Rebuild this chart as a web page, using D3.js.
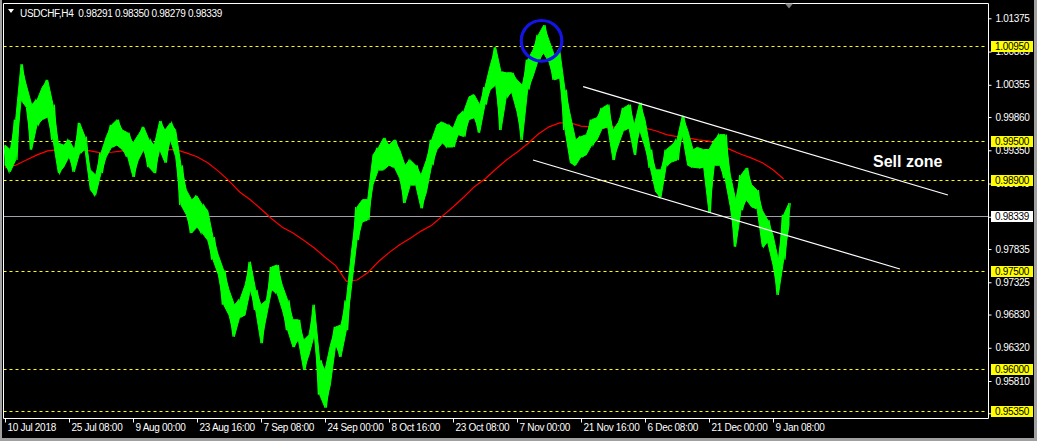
<!DOCTYPE html>
<html><head><meta charset="utf-8">
<script src="https://cdn.jsdelivr.net/npm/d3@7"></script>
<style>
body{margin:0;background:#000;overflow:hidden}
text{font-family:"Liberation Sans",Arial,sans-serif;}
</style>
</head><body>
<svg id="c" width="1037" height="441"></svg>
<script>
// ---------- data ----------
const symbolTitle = "USDCHF,H4";
const ohlcValues = [0.98291, 0.98350, 0.98279, 0.98339];
const xTickLabels = ["10 Jul 2018","25 Jul 08:00","9 Aug 00:00","23 Aug 16:00","7 Sep 08:00","24 Sep 00:00","8 Oct 16:00","23 Oct 08:00","7 Nov 00:00","21 Nov 16:00","6 Dec 08:00","21 Dec 00:00","9 Jan 08:00"];
const yTickValues = [1.01375,1.00865,1.00355,0.99860,0.99350,0.98840,0.98330,0.97835,0.97325,0.96830,0.96320,0.95810,0.95315];
const levelValues = [1.00950,0.99500,0.98900,0.97500,0.96000,0.95350];
const lastPrice = 0.98339;
const priceHigh = [0.9943,0.9936,0.9982,1.0067,1.0035,1.0005,1.0012,1.0032,1.0043,1.0005,
0.9946,0.9943,0.9951,0.9936,0.9977,0.9956,0.9905,0.9897,0.9931,0.9956,
0.9974,0.9982,0.9966,0.9962,0.9946,0.9959,0.9971,0.9951,0.9943,0.9980,
0.9966,0.9977,0.9966,0.9912,0.9874,0.9859,0.9865,0.9851,0.9843,0.9802,
0.9774,0.9751,0.9721,0.9698,0.9705,0.9728,0.9764,0.9721,0.9698,0.9705,
0.9756,0.9759,0.9728,0.9705,0.9675,0.9675,0.9644,0.9652,0.9698,0.9613,
0.9598,0.9636,0.9664,0.9667,0.9705,0.9782,0.9848,0.9859,0.9859,0.9928,
0.9939,0.9954,0.9943,0.9951,0.9936,0.9912,0.9920,0.9912,0.9897,0.9920,
0.9951,0.9974,0.9978,0.9974,0.9969,0.9989,0.9994,1.0017,1.0020,1.0005,
1.0032,1.0066,1.0093,1.0055,1.0054,1.0054,1.0043,1.0035,1.0074,1.0089,
1.0112,1.0127,1.0104,1.0081,1.0089,1.0028,0.9989,0.9951,0.9956,0.9959,
0.9982,0.9985,1.0000,1.0005,0.9966,0.9978,1.0000,1.0005,0.9974,1.0008,
0.9982,0.9936,0.9905,0.9905,0.9936,0.9943,0.9951,0.9988,0.9966,0.9936,
0.9939,0.9936,0.9936,0.9951,0.9959,0.9959,0.9897,0.9859,0.9897,0.9908,
0.9882,0.9874,0.9843,0.9828,0.9805,0.9767,0.9836,0.9854];
const priceLow = [0.9912,0.9902,0.9920,1.0012,1.0001,0.9936,0.9974,0.9982,0.9986,0.9951,
0.9900,0.9909,0.9925,0.9902,0.9931,0.9936,0.9874,0.9866,0.9900,0.9925,
0.9940,0.9943,0.9936,0.9925,0.9894,0.9920,0.9936,0.9909,0.9900,0.9936,
0.9916,0.9951,0.9925,0.9851,0.9836,0.9808,0.9817,0.9808,0.9797,0.9767,
0.9744,0.9698,0.9682,0.9649,0.9679,0.9682,0.9721,0.9690,0.9639,0.9679,
0.9721,0.9716,0.9690,0.9659,0.9633,0.9644,0.9598,0.9621,0.9652,0.9560,
0.9540,0.9575,0.9636,0.9618,0.9659,0.9728,0.9797,0.9825,0.9828,0.9882,
0.9905,0.9905,0.9912,0.9909,0.9892,0.9854,0.9882,0.9882,0.9846,0.9870,
0.9912,0.9936,0.9946,0.9940,0.9940,0.9959,0.9956,0.9982,0.9985,0.9962,
1.0005,1.0028,1.0035,0.9966,1.0017,1.0024,0.9994,0.9951,1.0028,1.0048,
1.0074,1.0084,1.0070,1.0043,1.0046,0.9966,0.9916,0.9912,0.9925,0.9928,
0.9943,0.9951,0.9969,0.9971,0.9920,0.9943,0.9966,0.9969,0.9928,0.9966,
0.9940,0.9908,0.9871,0.9863,0.9912,0.9917,0.9920,0.9959,0.9912,0.9909,
0.9908,0.9909,0.9839,0.9912,0.9912,0.9892,0.9848,0.9787,0.9843,0.9859,
0.9848,0.9846,0.9787,0.9794,0.9759,0.9713,0.9767,0.9820];
// moving average, one value every 2 samples
const maValues = [0.9908,0.9912,0.9920,0.9928,0.9934,0.9936,0.9936,0.9936,0.9934,0.9931,
0.9932,0.9934,0.9934,0.9934,0.9936,0.9936,0.9936,0.9931,0.9925,0.9916,
0.9903,0.9888,0.9871,0.9859,0.9845,0.9830,0.9817,0.9808,0.9797,0.9785,
0.9771,0.9758,0.9734,0.9736,0.9747,0.9764,0.9778,0.9790,0.9800,0.9811,
0.9820,0.9834,0.9848,0.9863,0.9879,0.9891,0.9906,0.9920,0.9932,0.9945,
0.9960,0.9971,0.9977,0.9977,0.9972,0.9971,0.9969,0.9971,0.9969,0.9969,
0.9969,0.9965,0.9959,0.9956,0.9954,0.9951,0.9949,0.9943,0.9936,0.9929,
0.9923,0.9916,0.9905,0.9891];
// trend channel: [sample index, price]
const channelUpper = [[108.4, 1.00326],[176.8, 0.98664]];
const channelLower = [[99.0, 0.99201],[167.8, 0.97529]];
const circleMark = [100.6, 1.0103];
const noteText = "Sell zone";
const notePoint = [162.75, 0.9909];

// ---------- drawing ----------
const W = 1037, H = 441;
const svg = d3.select("#c");
const x = d3.scaleLinear().domain([0, 12]).range([5, 69]);   // 12 samples per time label
const y = d3.scaleLinear().domain([0.9535, 1.0095]).range([411, 46]);
const plotL = 3.5, plotR = 988.5, plotT = 3.5, plotB = 418.5;
const font = "10px";

svg.append("rect").attr("width", W).attr("height", H).attr("fill", "#000");
// window edge
svg.append("rect").attr("x", 0).attr("y", 0).attr("width", 2).attr("height", H).attr("fill", "#a0a0a0");
svg.append("rect").attr("x", 1034).attr("y", 0).attr("width", 3).attr("height", H).attr("fill", "#a0a0a0");
svg.append("rect").attr("x", 0).attr("y", 438).attr("width", W).attr("height", 3).attr("fill", "#a0a0a0");

// levels
svg.append("g").selectAll("line").data(levelValues).join("line")
  .attr("x1", plotL).attr("x2", plotR - 2)
  .attr("y1", d => Math.round(y(d)) + 0.5).attr("y2", d => Math.round(y(d)) + 0.5)
  .attr("stroke", "#ffff00").attr("stroke-width", 1).attr("stroke-dasharray", "3,3");

// last price line
svg.append("line").attr("x1", plotL).attr("x2", plotR)
  .attr("y1", Math.round(y(lastPrice)) + 0.5).attr("y2", Math.round(y(lastPrice)) + 0.5)
  .attr("stroke", "#a0a0a8").attr("stroke-width", 1);

// moving average
svg.append("path").datum(maValues)
  .attr("d", d3.line().x((d, k) => x(2 * k)).y(d => y(d)))
  .attr("fill", "none").attr("stroke", "#ff0000").attr("stroke-width", 1.2);

// price band between each sample's high and low
const area = d3.area().x((d, i) => x(i)).y0((d, i) => y(priceLow[i])).y1((d, i) => y(priceHigh[i]));
svg.append("path").datum(priceHigh).attr("d", area)
  .attr("fill", "#00ff00").attr("stroke", "#00ff00").attr("stroke-width", 1).attr("stroke-linejoin", "miter");
// high-low zigzag for texture
const zig = [];
priceHigh.forEach((h, i) => {
  const l = priceLow[i];
  if (i % 2 === 0) { zig.push([i - 0.25, h]); zig.push([i + 0.25, l]); }
  else { zig.push([i - 0.25, l]); zig.push([i + 0.25, h]); }
});
svg.append("path").datum(zig)
  .attr("d", d3.line().x(d => x(d[0])).y(d => y(d[1])))
  .attr("fill", "none").attr("stroke", "#00ff00").attr("stroke-width", 1.2);

// channel
[channelUpper, channelLower].forEach(c => {
  svg.append("path").datum(c)
    .attr("d", d3.line().x(d => x(d[0])).y(d => y(d[1])))
    .attr("stroke", "#ffffff").attr("stroke-width", 1.2).attr("fill", "none");
});

// circle
svg.append("circle").attr("cx", x(circleMark[0])).attr("cy", y(circleMark[1])).attr("r", 20.3)
  .attr("fill", "none").attr("stroke", "#1414e6").attr("stroke-width", 3.2);

// note
svg.append("text").attr("x", x(notePoint[0])).attr("y", y(notePoint[1]))
  .attr("fill", "#ffffff").attr("font-size", "16px").attr("font-weight", "bold").text(noteText);

// frame
svg.append("path").attr("d", `M${plotL},${plotT}H${plotR}V${plotB}H${plotL}Z`)
  .attr("fill", "none").attr("stroke", "#ffffff").attr("stroke-width", 1);

// right axis
const yAxis = svg.append("g").attr("transform", `translate(${plotR},0)`)
  .call(d3.axisRight(y).tickValues(yTickValues).tickFormat(d3.format(".5f")).tickSize(3).tickPadding(4));
yAxis.select(".domain").remove();
yAxis.selectAll("line").attr("stroke", "#ffffff");
yAxis.selectAll("text").attr("fill", "#ffffff").attr("font-size", font)
  .attr("font-family", '"Liberation Sans",Arial,sans-serif').attr("letter-spacing", "-0.3px");

// bottom axis
const xAxis = svg.append("g").attr("transform", `translate(0,${plotB})`)
  .call(d3.axisBottom(x).tickValues(xTickLabels.map((d, i) => 12 * i))
    .tickFormat((d, i) => xTickLabels[i]).tickSize(4).tickPadding(1));
xAxis.select(".domain").remove();
xAxis.selectAll("line").attr("stroke", "#ffffff");
xAxis.selectAll("text").attr("fill", "#ffffff").attr("font-size", font).attr("text-anchor", "start").attr("x", 2)
  .attr("font-family", '"Liberation Sans",Arial,sans-serif').attr("letter-spacing", "-0.3px");

// level labels
const lg = svg.append("g").selectAll("g").data(levelValues).join("g")
  .attr("transform", d => `translate(991,${Math.round(y(d)) + 0.5})`);
lg.append("rect").attr("x", 0).attr("y", -5.5).attr("width", 42).attr("height", 11).attr("fill", "#ffff00");
lg.append("text").attr("x", 4).attr("dy", "0.35em").attr("fill", "#000").attr("font-size", font)
  .attr("letter-spacing", "-0.3px").text(d => d3.format(".5f")(d));

// last price label
const lp = svg.append("g").attr("transform", `translate(991,${Math.round(y(lastPrice)) + 0.5})`);
lp.append("rect").attr("x", 0).attr("y", -5.5).attr("width", 42).attr("height", 11).attr("fill", "#ffffff");
lp.append("text").attr("x", 4).attr("dy", "0.35em").attr("fill", "#000").attr("font-size", font)
  .attr("letter-spacing", "-0.3px").text(d3.format(".5f")(lastPrice));

// title
svg.append("path").attr("d", "M8,9H14L11,13Z").attr("fill", "#ffffff");
svg.append("text").attr("x", 20).attr("y", 16.5).attr("fill", "#ffffff").attr("font-size", font)
  .attr("letter-spacing", "-0.3px").attr("xml:space", "preserve").style("white-space", "pre")
  .text(symbolTitle + "  " + ohlcValues.map(d3.format(".5f")).join(" "));

// chart shift marker
svg.append("path").attr("d", `M${x(147) - 4},${plotT}H${x(147) + 4}L${x(147)},${plotT + 5}Z`).attr("fill", "#808080");
</script>
</body></html>
